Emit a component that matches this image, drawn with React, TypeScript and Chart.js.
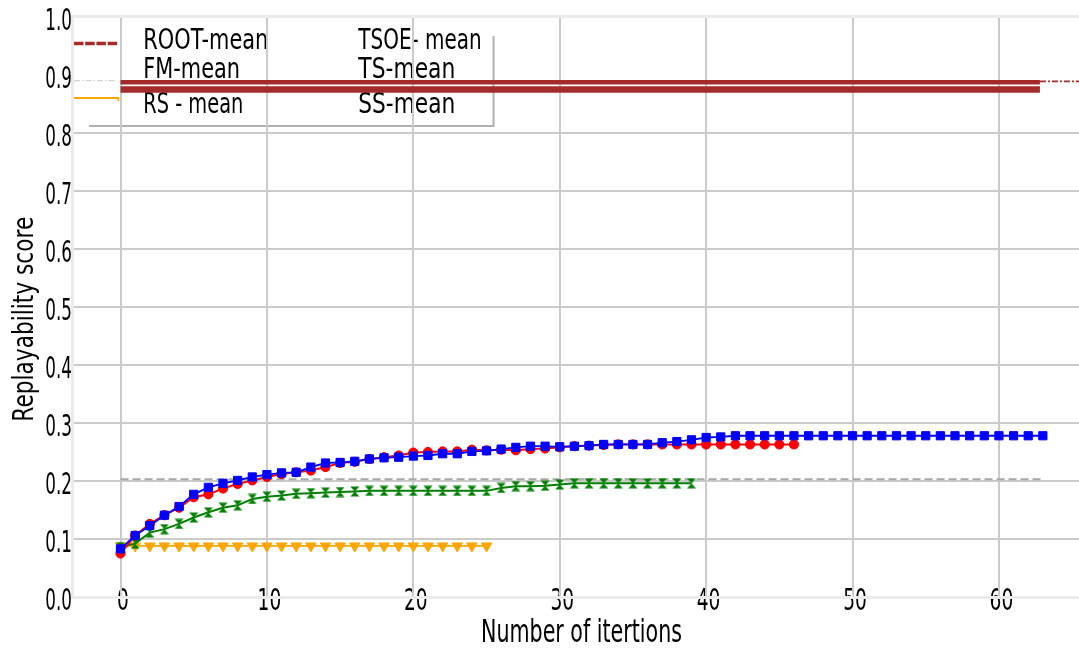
import React, { useEffect, useRef } from "react";
import { Chart, registerables } from "chart.js";

Chart.register(...registerables);

// Axis ticks
const xTickValues = [0, 10, 20, 30, 40, 50, 60];
const xTickLabels = ["0", "10", "20", "30", "40", "50", "60"];
const yTickValues = [0, 0.1, 0.2, 0.3, 0.4, 0.5, 0.6, 0.7, 0.8, 0.9, 1.0];
const yTickLabels = ["0.0", "0.1", "0.2", "0.3", "0.4", "0.5", "0.6", "0.7", "0.8", "0.9", "1.0"];

// Mean replayability per iteration (index = iteration)
const tsoeMean = [
  0.075, 0.106, 0.126, 0.141, 0.154, 0.172, 0.177, 0.187, 0.195, 0.201,
  0.207, 0.212, 0.215, 0.218, 0.224, 0.231, 0.233, 0.238, 0.241, 0.244,
  0.249, 0.25, 0.251, 0.251, 0.254, 0.253, 0.254, 0.253, 0.255, 0.256,
  0.258, 0.26, 0.261, 0.262, 0.263, 0.263, 0.263, 0.263, 0.263, 0.263,
  0.263, 0.263, 0.263, 0.263, 0.263, 0.263, 0.263,
];
const tsMean = [
  0.083, 0.106, 0.123, 0.141, 0.156, 0.177, 0.189, 0.196, 0.201, 0.207,
  0.211, 0.214, 0.215, 0.224, 0.231, 0.232, 0.234, 0.238, 0.24, 0.241,
  0.243, 0.244, 0.247, 0.247, 0.251, 0.252, 0.255, 0.258, 0.26, 0.26,
  0.259, 0.26, 0.261, 0.263, 0.263, 0.263, 0.263, 0.266, 0.268, 0.271,
  0.275, 0.276, 0.278, 0.278, 0.278, 0.278, 0.278, 0.278, 0.278, 0.278,
  0.278, 0.278, 0.278, 0.278, 0.278, 0.278, 0.278, 0.278, 0.278, 0.278,
  0.278, 0.278, 0.278, 0.278,
];
const ssMean = [
  0.086, 0.092, 0.111, 0.117, 0.126, 0.137, 0.146, 0.154, 0.158, 0.169,
  0.173, 0.175, 0.178, 0.179, 0.18, 0.181, 0.182, 0.183, 0.183, 0.183,
  0.183, 0.183, 0.183, 0.183, 0.183, 0.183, 0.188, 0.191, 0.191, 0.192,
  0.194, 0.196, 0.196, 0.196, 0.196, 0.196, 0.196, 0.196, 0.196, 0.196,
];
const rsMean = [
  0.088, 0.088, 0.088, 0.088, 0.088, 0.088, 0.088, 0.088, 0.088, 0.088,
  0.088, 0.088, 0.088, 0.088, 0.088, 0.088, 0.088, 0.088, 0.088, 0.088,
  0.088, 0.088, 0.088, 0.088, 0.088, 0.088,
];
const fmIter = [0, 63];
const fmMean = [0.203, 0.203];
const rootIter = [0, 62.8];
const rootUpper = [0.8875, 0.8875];
const rootLower = [0.875, 0.875];
const rootTailIter = [62.8, 65.5];
const rootTail = [0.889, 0.889];

// Legend rows: [left column, right column]
const legendLeft = ["ROOT-mean", "FM-mean", "RS - mean"];
const legendRight = ["TSOE- mean", "TS-mean", "SS-mean"];

const FONT = '"DejaVu Sans"';

const toPoints = (ys: number[], xs?: number[]) =>
  ys.map((y, i) => ({ x: xs ? xs[i] : i, y }));

function drawText(
  ctx: CanvasRenderingContext2D,
  text: string,
  x: number,
  y: number,
  size: number,
  opts: { sx?: number; width?: number; align?: "left" | "right" | "center"; rotate?: boolean }
) {
  ctx.save();
  ctx.font = `${size}px ${FONT}`;
  ctx.fillStyle = "#000";
  ctx.textBaseline = "alphabetic";
  ctx.textAlign = "left";
  const w = ctx.measureText(text).width;
  const sx = opts.width ? opts.width / w : opts.sx ?? 1;
  ctx.translate(x, y);
  if (opts.rotate) ctx.rotate(-Math.PI / 2);
  ctx.scale(sx, 1);
  const align = opts.align ?? "left";
  const off = align === "right" ? -w : align === "center" ? -w / 2 : 0;
  ctx.fillText(text, off, 0);
  ctx.restore();
}

function hourglass(color: string) {
  const c = document.createElement("canvas");
  c.width = 10;
  c.height = 11;
  const g = c.getContext("2d")!;
  g.fillStyle = color;
  g.beginPath();
  g.moveTo(0.5, 0.5);
  g.lineTo(9.5, 0.5);
  g.lineTo(5, 5.5);
  g.closePath();
  g.moveTo(5, 5.5);
  g.lineTo(9.5, 10.5);
  g.lineTo(0.5, 10.5);
  g.closePath();
  g.fill();
  return c;
}

const decorations = {
  id: "decorations",
  beforeDraw(chart: any) {
    const ctx: CanvasRenderingContext2D = chart.ctx;
    const xs = chart.scales.x;
    const ys = chart.scales.y;
    ctx.save();
    ctx.fillStyle = "#fff";
    ctx.fillRect(0, 0, chart.width, chart.height);
    ctx.restore();

    // tick labels
    yTickValues.forEach((v, i) => {
      drawText(ctx, yTickLabels[i], 72, ys.getPixelForValue(v) + 13, 30, { sx: 0.56, align: "right" });
    });
    xTickValues.forEach((v, i) => {
      drawText(ctx, xTickLabels[i], xs.getPixelForValue(v) + 2.5, 610, 30, { sx: 0.62, align: "center" });
    });
    // axis titles
    drawText(ctx, "Number of itertions", 481, 641.5, 32, { width: 201 });
    drawText(ctx, "Replayability score", 33.3, 421.7, 28, { width: 205, rotate: true });

    // legend shadow frame
    ctx.save();
    ctx.strokeStyle = "#b0b0b0";
    ctx.lineWidth = 2;
    ctx.beginPath();
    ctx.moveTo(493.5, 36);
    ctx.lineTo(493.5, 126);
    ctx.lineTo(89, 126);
    ctx.stroke();
    ctx.restore();

    // legend handles
    ctx.save();
    ctx.lineCap = "butt";
    ctx.strokeStyle = "#a52a2a";
    ctx.lineWidth = 3.5;
    ctx.setLineDash([9.5, 1.7]);
    ctx.beginPath();
    ctx.moveTo(74, 43.5);
    ctx.lineTo(117, 43.5);
    ctx.stroke();
    ctx.strokeStyle = "#c8c8c8";
    ctx.lineWidth = 1;
    ctx.setLineDash([6, 2, 1.5, 2]);
    ctx.beginPath();
    ctx.moveTo(74, 80.7);
    ctx.lineTo(117, 80.7);
    ctx.stroke();
    ctx.setLineDash([]);
    ctx.strokeStyle = "#ffa500";
    ctx.lineWidth = 2.2;
    ctx.beginPath();
    ctx.moveTo(74, 98);
    ctx.lineTo(118, 98);
    ctx.stroke();
    ctx.lineWidth = 1.5;
    ctx.beginPath();
    ctx.moveTo(118.3, 97);
    ctx.lineTo(118.3, 101);
    ctx.stroke();
    ctx.restore();

    // legend texts
    const baselines = [49.3, 78.3, 113];
    const leftWidths = [125, 96.7, 100];
    const rightWidths = [123.4, 97, 97];
    legendLeft.forEach((t, i) => drawText(ctx, t, 143.3, baselines[i], 29, { width: leftWidths[i] }));
    legendRight.forEach((t, i) => drawText(ctx, t, 358.3, baselines[i], 29, { width: rightWidths[i] }));
  },
  beforeDatasetsDraw(chart: any) {
    const ctx: CanvasRenderingContext2D = chart.ctx;
    const { left, top, bottom } = chart.chartArea;
    const right = chart.width;
    ctx.save();
    ctx.strokeStyle = "#ebebeb";
    ctx.lineWidth = 3;
    ctx.beginPath();
    ctx.moveTo(left - 0.5, top - 0.5);
    ctx.lineTo(left - 0.5, bottom + 0.5);
    ctx.moveTo(left - 2, bottom + 0.5);
    ctx.lineTo(right, bottom + 0.5);
    ctx.moveTo(left - 2, top - 0.5);
    ctx.lineTo(right, top - 0.5);
    ctx.stroke();
    ctx.restore();
  },
};

export default function App() {
  const ref = useRef<HTMLCanvasElement | null>(null);

  useEffect(() => {
    if (!ref.current) return;
    const chart = new Chart(ref.current, {
      type: "line",
      data: {
        datasets: [
          {
            label: "TS-mean",
            data: toPoints(tsMean),
            borderColor: "#0000ff",
            backgroundColor: "#0000ff",
            borderWidth: 1.8,
            pointStyle: "rect",
            pointRadius: 5.8,
            pointBorderWidth: 1,
          },
          {
            label: "TSOE- mean",
            data: toPoints(tsoeMean),
            borderColor: "#ff0000",
            backgroundColor: "#ff0000",
            borderWidth: 2,
            pointStyle: "circle",
            pointRadius: 4.6,
            pointBorderWidth: 1,
          },
          {
            label: "SS-mean",
            data: toPoints(ssMean),
            borderColor: "#008000",
            backgroundColor: "#008000",
            borderWidth: 2,
            pointStyle: hourglass("#008000") as any,
          },
          {
            label: "RS - mean",
            data: toPoints(rsMean),
            borderColor: "#ffa500",
            backgroundColor: "#ffa500",
            borderWidth: 1.8,
            pointStyle: "triangle",
            pointRotation: 180,
            pointRadius: 6,
            pointBorderWidth: 1,
          },
          {
            label: "FM-mean",
            data: toPoints(fmMean, fmIter),
            borderColor: "#a9a9a9",
            borderWidth: 2,
            borderDash: [8, 4],
            pointRadius: 0,
          },
          {
            label: "ROOT-mean",
            data: toPoints(rootUpper, rootIter),
            borderColor: "#a52a2a",
            borderWidth: 4.3,
            pointRadius: 0,
          },
          {
            label: "ROOT-mean band",
            data: toPoints(rootLower, rootIter),
            borderColor: "#a52a2a",
            borderWidth: 6.7,
            pointRadius: 0,
          },
          {
            label: "ROOT-mean tail",
            data: toPoints(rootTail, rootTailIter),
            borderColor: "#a52a2a",
            borderWidth: 1.6,
            borderDash: [6, 2, 2, 2],
            pointRadius: 0,
          },
        ],
      },
      options: {
        responsive: false,
        animation: false,
        events: [],
        layout: { autoPadding: false, padding: { top: 17, left: 0, right: 0, bottom: 0 } },
        plugins: {
          legend: { display: false },
          tooltip: { enabled: false },
        },
        scales: {
          x: {
            type: "linear",
            min: -3.245,
            max: 65.47,
            border: { display: false },
            grid: { color: "#cbcbcb", lineWidth: 2, drawTicks: false },
            ticks: { display: false },
            afterBuildTicks: (s: any) => {
              s.ticks = xTickValues.map((v) => ({ value: v }));
            },
            afterFit: (s: any) => {
              s.height = 52;
            },
          },
          y: {
            type: "linear",
            min: 0,
            max: 1,
            border: { display: false },
            grid: {
              color: (c: any) => {
                const v = c.tick ? c.tick.value : 0;
                if (Math.abs(v) < 1e-6 || Math.abs(v - 0.9) < 1e-6 || Math.abs(v - 1) < 1e-6) return "rgba(0,0,0,0)";
                return "#cbcbcb";
              },
              lineWidth: 2,
              drawTicks: false,
            },
            ticks: { display: false },
            afterBuildTicks: (s: any) => {
              s.ticks = yTickValues.map((v) => ({ value: v }));
            },
            afterFit: (s: any) => {
              s.width = 73;
            },
          },
        },
      },
      plugins: [decorations],
    });
    return () => chart.destroy();
  }, []);

  return (
    <div style={{ position: "absolute", left: 0, top: 0, width: 1079, height: 649 }}>
      <canvas ref={ref} width={1079} height={649} style={{ display: "block" }} />
    </div>
  );
}
